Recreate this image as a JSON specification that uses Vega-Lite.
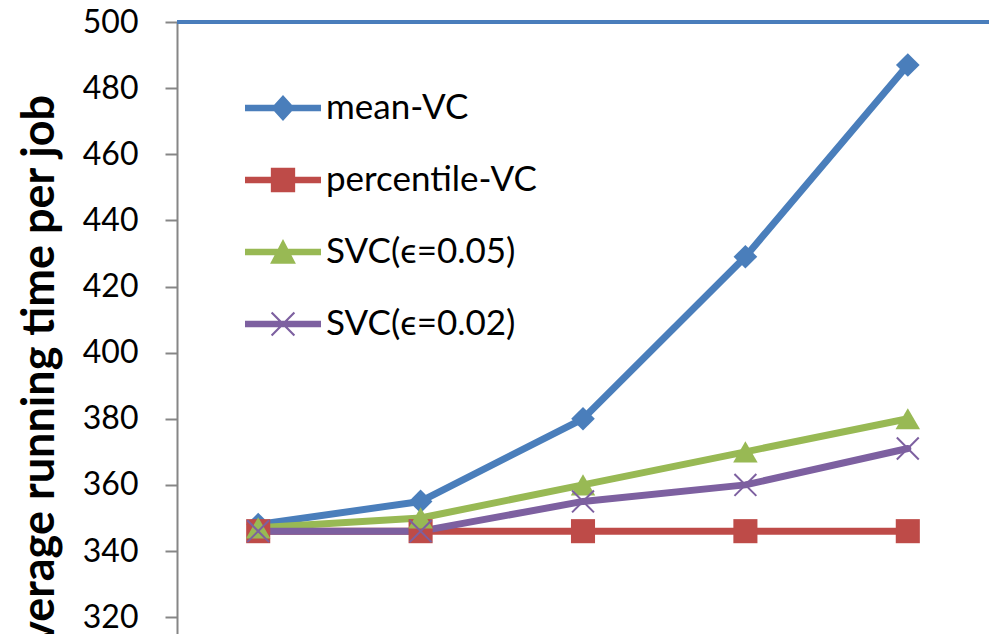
{
  "$schema": "https://vega.github.io/schema/vega-lite/v6.json",
  "width": 812,
  "height": 612,
  "autosize": "none",
  "padding": {"left": 177, "top": 22, "right": 0, "bottom": 0},
  "background": "white",
  "view": {"stroke": null},
  "config": {"font": "Lato"},
  "data": {
    "values": [
      {"step": "1", "series": "mean-VC", "time": 348},
      {"step": "2", "series": "mean-VC", "time": 355},
      {"step": "3", "series": "mean-VC", "time": 380},
      {"step": "4", "series": "mean-VC", "time": 429},
      {"step": "5", "series": "mean-VC", "time": 487},
      {"step": "1", "series": "percentile-VC", "time": 346},
      {"step": "2", "series": "percentile-VC", "time": 346},
      {"step": "3", "series": "percentile-VC", "time": 346},
      {"step": "4", "series": "percentile-VC", "time": 346},
      {"step": "5", "series": "percentile-VC", "time": 346},
      {"step": "1", "series": "SVC(ϵ=0.05)", "time": 347},
      {"step": "2", "series": "SVC(ϵ=0.05)", "time": 350},
      {"step": "3", "series": "SVC(ϵ=0.05)", "time": 360},
      {"step": "4", "series": "SVC(ϵ=0.05)", "time": 370},
      {"step": "5", "series": "SVC(ϵ=0.05)", "time": 380},
      {"step": "1", "series": "SVC(ϵ=0.02)", "time": 346},
      {"step": "2", "series": "SVC(ϵ=0.02)", "time": 346},
      {"step": "3", "series": "SVC(ϵ=0.02)", "time": 355},
      {"step": "4", "series": "SVC(ϵ=0.02)", "time": 360},
      {"step": "5", "series": "SVC(ϵ=0.02)", "time": 371}
    ]
  },
  "encoding": {
    "x": {"field": "step", "type": "ordinal", "sort": null, "scale": {"type": "point", "padding": 0.5}, "axis": null},
    "y": {"field": "time", "type": "quantitative", "scale": {"domain": [314.9, 500], "nice": false, "zero": false}}
  },
  "layer": [
    {
      "mark": {"type": "rule", "color": "#4A7EBB", "strokeWidth": 2.5},
      "encoding": {
        "x": null,
        "y": {"datum": 500, "type": "quantitative"}
      }
    },
    {
      "mark": {"type": "line", "strokeWidth": 7, "strokeCap": "round", "strokeJoin": "round"},
      "encoding": {
        "y": {
          "field": "time", "type": "quantitative",
          "axis": {
            "values": [320, 340, 360, 380, 400, 420, 440, 460, 480, 500],
            "domainColor": "#868686", "domainWidth": 2,
            "tickColor": "#868686", "tickWidth": 2, "tickSize": 12,
            "labelFont": "Lato", "labelFontSize": 32, "labelColor": "black", "labelPadding": 27,
            "grid": false,
            "title": "Average running time per job",
            "titleFont": "Lato", "titleFontWeight": "bold", "titleFontSize": 45, "titleColor": "black",
            "titleX": -138, "titleY": 362, "titleAngle": -90, "titleAlign": "center", "titleBaseline": "middle"
          }
        },
        "color": {
          "field": "series", "type": "nominal",
          "sort": ["mean-VC", "percentile-VC", "SVC(ϵ=0.05)", "SVC(ϵ=0.02)"],
          "scale": {"domain": ["mean-VC", "percentile-VC", "SVC(ϵ=0.05)", "SVC(ϵ=0.02)"], "range": ["#4A7EBB", "#BE4B48", "#98B954", "#7D60A0"]},
          "legend": {
            "orient": "none", "legendX": 68, "legendY": 48, "title": null,
            "symbolSize": 5776, "symbolStrokeWidth": 0, "symbolType": "square",
            "labelFont": "Lato", "labelFontSize": 35, "labelColor": "black", "labelOffset": 5, "labelLimit": 0,
            "rowPadding": 16,
            "encode": {
              "symbols": {
                "update": {
                  "shape": {"signal": "datum.value === 'mean-VC' ? 'M-1,-0.085L1,-0.085L1,0.085L-1,0.085ZM0,-0.34L0.31,0L0,0.34L-0.31,0Z' : datum.value === 'percentile-VC' ? 'M-1,-0.085L1,-0.085L1,0.085L-1,0.085ZM-0.32,-0.32L0.32,-0.32L0.32,0.32L-0.32,0.32Z' : datum.value === 'SVC(ϵ=0.05)' ? 'M-1,-0.085L1,-0.085L1,0.085L-1,0.085ZM0,-0.34L0.34,0.31L-0.34,0.31Z' : 'M-1,-0.085L1,-0.085L1,0.085L-1,0.085ZM-0.32,-0.28L-0.28,-0.32L0.32,0.28L0.28,0.32ZM0.28,-0.32L0.32,-0.28L-0.28,0.32L-0.32,0.28Z'"},
                  "fill": {"signal": "datum.value === 'mean-VC' ? '#4A7EBB' : datum.value === 'percentile-VC' ? '#BE4B48' : datum.value === 'SVC(ϵ=0.05)' ? '#98B954' : '#7D60A0'"},
                  "stroke": {"value": "transparent"},
                  "opacity": {"value": 1}
                }
              }
            }
          }
        }
      }
    },
    {
      "transform": [{"filter": "datum.series === 'mean-VC'"}],
      "mark": {"type": "point", "shape": "diamond", "filled": true, "color": "#4A7EBB", "size": 560, "opacity": 1}
    },
    {
      "transform": [{"filter": "datum.series === 'percentile-VC'"}],
      "mark": {"type": "point", "shape": "square", "filled": true, "color": "#BE4B48", "size": 580, "opacity": 1}
    },
    {
      "transform": [{"filter": "datum.series === 'SVC(ϵ=0.05)'"}],
      "mark": {"type": "point", "shape": "triangle-up", "filled": true, "color": "#98B954", "size": 600, "opacity": 1}
    },
    {
      "transform": [{"filter": "datum.series === 'SVC(ϵ=0.02)'"}],
      "mark": {"type": "point", "shape": "M-1,-1L1,1M1,-1L-1,1", "filled": false, "color": "#7D60A0", "strokeWidth": 2, "size": 480, "opacity": 1}
    }
  ]
}
